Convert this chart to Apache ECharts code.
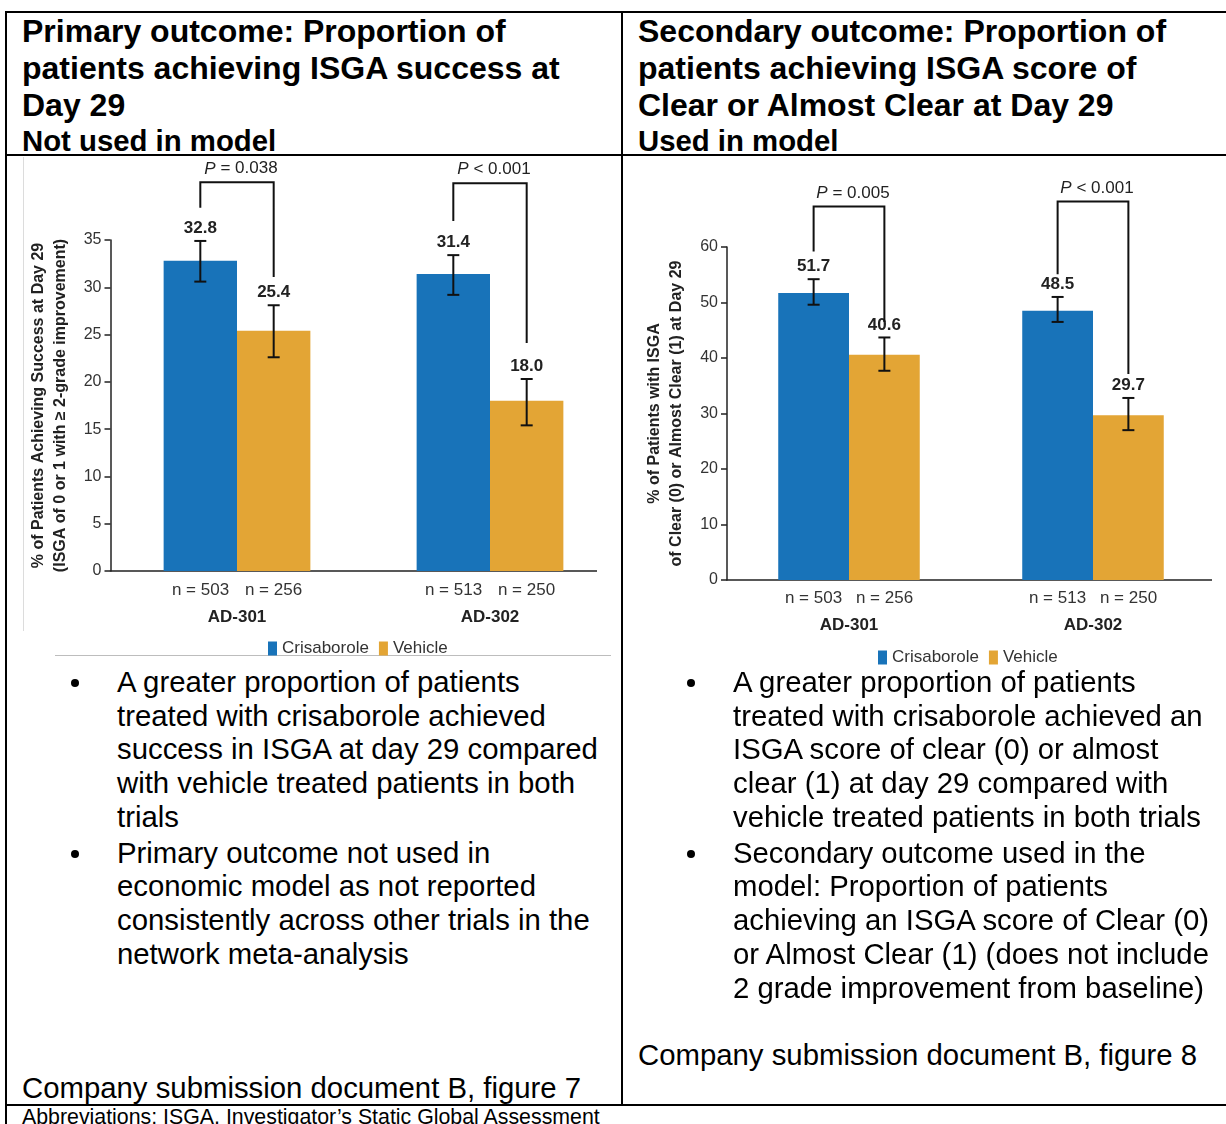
<!DOCTYPE html>
<html>
<head>
<meta charset="utf-8">
<title>ISGA outcomes at Day 29</title>
<script src="https://cdn.jsdelivr.net/npm/echarts@6/dist/echarts.min.js"></script>
<style>
  html, body { margin: 0; padding: 0; background: #fff; }
  body { width: 1226px; height: 1124px; overflow: hidden; position: relative;
         font-family: "Liberation Sans", Arial, sans-serif; color: #000; }
  .rule { position: absolute; background: #000; }
  .head { position: absolute; font-weight: bold; font-size: 32px; line-height: 36.8px; white-space: nowrap; }
  .sub { position: absolute; font-weight: bold; font-size: 29.33px; line-height: 33.73px; white-space: nowrap; }
  .body { position: absolute; font-size: 29.33px; line-height: 33.73px; white-space: nowrap; }
  .bullets p { margin: 0 0 2px 0; position: relative; }
  .bullets p::before { content: ""; position: absolute; left: -46px; top: 14px; width: 8px; height: 8px;
                       border-radius: 50%; background: #000; }
  .chart { position: absolute; }
  .clip { position: absolute; overflow: hidden; }
</style>
</head>
<body>
<!-- table rules -->
<div class="rule" style="left:5px; top:11px; width:1221px; height:2px;"></div>
<div class="rule" style="left:5px; top:11px; width:2px; height:1113px;"></div>
<div class="rule" style="left:621px; top:11px; width:2px; height:1095px;"></div>
<div class="rule" style="left:5px; top:154px; width:1221px; height:2px;"></div>
<div class="rule" style="left:5px; top:1104px; width:1221px; height:2px;"></div>

<!-- headings -->
<div class="head" style="left:22px; top:13px;">Primary outcome: Proportion of<br>patients achieving ISGA success at<br>Day 29</div>
<div class="sub" style="left:22px; top:124px;">Not used in model</div>
<div class="head" style="left:638px; top:13px;">Secondary outcome: Proportion of<br>patients achieving ISGA score of<br>Clear or Almost Clear at Day 29</div>
<div class="sub" style="left:638px; top:124px;">Used in model</div>

<!-- figure frame of the left panel -->
<div style="position:absolute; left:23px; top:157px; width:1px; height:474px; background:#dcdcdc;"></div>
<div style="position:absolute; left:55px; top:655px; width:556px; height:1px; background:#bdbdbd;"></div>

<div class="clip" style="left:24px; top:157px; width:573px; height:500px;">
  <div id="chartSuccess" class="chart" style="left:0; top:0; width:593px; height:500px;"></div>
</div>
<div id="chartClear" class="chart" style="left:630px; top:160px; width:582px; height:510px;"></div>

<!-- bullet text -->
<div class="body bullets" style="left:117px; top:665px;">
  <p>A greater proportion of patients<br>treated with crisaborole achieved<br>success in ISGA at day 29 compared<br>with vehicle treated patients in both<br>trials</p>
  <p>Primary outcome not used in<br>economic model as not reported<br>consistently across other trials in the<br>network meta-analysis</p>
</div>
<div class="body bullets" style="left:733px; top:665px;">
  <p>A greater proportion of patients<br>treated with crisaborole achieved an<br>ISGA score of clear (0) or almost<br>clear (1) at day 29 compared with<br>vehicle treated patients in both trials</p>
  <p>Secondary outcome used in the<br>model: Proportion of patients<br>achieving an ISGA score of Clear (0)<br>or Almost Clear (1) (does not include<br>2 grade improvement from baseline)</p>
</div>

<div class="body" style="left:22px; top:1071px;">Company submission document B, figure 7</div>
<div class="body" style="left:638px; top:1038px;">Company submission document B, figure 8</div>
<div style="position:absolute; left:22px; top:1105px; font-size:21.33px; line-height:24px; white-space:nowrap;">Abbreviations: ISGA, Investigator’s Static Global Assessment</div>

<script>
// Trials and treatment arms
const trials = ['AD-301', 'AD-302'];
const arms = ['Crisaborole', 'Vehicle'];
const nCrisaborole = ['n = 503', 'n = 513'];
const nVehicle = ['n = 256', 'n = 250'];

// Primary outcome: ISGA success at Day 29 (%)
const successCrisaborole = [32.8, 31.4];
const successVehicle = [25.4, 18.0];
const successCrisaboroleCI = [[30.6, 34.9], [29.2, 33.4]];
const successVehicleCI = [[22.6, 28.1], [15.4, 20.3]];
// comparison brackets: [left leg end, top, right leg end]
const successBrackets = [[38.4, 41.1, 31.1], [37.0, 41.0, 24.1]];
const successP = ['= 0.038', '< 0.001'];
const successAxis = [0, 35, 5];
const successAxisName = ['% of Patients Achieving Success at Day 29', '(ISGA of 0 or 1 with \u2265 2-grade improvement)'];

// Secondary outcome: ISGA Clear (0) or Almost Clear (1) at Day 29 (%)
const clearCrisaborole = [51.7, 48.5];
const clearVehicle = [40.6, 29.7];
const clearCrisaboroleCI = [[49.6, 54.2], [46.5, 51.0]];
const clearVehicleCI = [[37.7, 43.7], [27.0, 32.8]];
const clearBrackets = [[59.2, 67.3, 46.5], [55.1, 68.2, 37.1]];
const clearP = ['= 0.005', '< 0.001'];
const clearAxis = [0, 60, 10];
const clearAxisName = ['% of Patients with ISGA', 'of Clear (0) or Almost Clear (1) at Day 29'];

const FONT = '"Liberation Sans", Arial, sans-serif';
const BLUE = '#1873b9';
const ORANGE = '#e3a535';
const INK = '#111';
const GAP = 0.42;               // bar category gap
const HALF = (1 - GAP) / 4;     // offset of each bar centre from the category centre, in category widths

function barCentre(api, cat, side) {
  const catW = api.size([1, 0])[0];
  return api.coord([cat, 0])[0] + side * catW * HALF;
}

function errorSeries(name, ci, values, side) {
  return {
    type: 'custom', name, z: 5, clip: false, silent: true,
    data: ci.map((r, i) => [i, r[0], r[1], values[i]]),
    encode: { x: 0, y: [1, 2] },
    renderItem(params, api) {
      const cat = api.value(0);
      const x = barCentre(api, cat, side);
      const yLo = api.coord([cat, api.value(1)])[1];
      const yHi = api.coord([cat, api.value(2)])[1];
      const st = { stroke: INK, lineWidth: 2 };
      return {
        type: 'group',
        children: [
          { type: 'line', shape: { x1: x, y1: yLo, x2: x, y2: yHi }, style: st },
          { type: 'line', shape: { x1: x - 6, y1: yHi, x2: x + 6, y2: yHi }, style: st },
          { type: 'line', shape: { x1: x - 6, y1: yLo, x2: x + 6, y2: yLo }, style: st },
          { type: 'text', x: x, y: yHi - 4,
            style: { text: api.value(3).toFixed(1), fill: '#222', font: 'bold 17px ' + FONT,
                     align: 'center', verticalAlign: 'bottom' } }
        ]
      };
    }
  };
}

function bracketSeries(brackets, pLabels) {
  return {
    type: 'custom', name: 'comparison', z: 5, clip: false, silent: true,
    data: brackets.map((b, i) => [i, b[0], b[1], b[2]]),
    encode: { x: 0, y: [1, 2, 3] },
    renderItem(params, api) {
      const cat = api.value(0);
      const xl = barCentre(api, cat, -1);
      const xr = barCentre(api, cat, 1);
      const yl = api.coord([cat, api.value(1)])[1];
      const yt = api.coord([cat, api.value(2)])[1];
      const yr = api.coord([cat, api.value(3)])[1];
      return {
        type: 'group',
        children: [
          { type: 'polyline', shape: { points: [[xl, yl], [xl, yt], [xr, yt], [xr, yr]] },
            style: { stroke: INK, lineWidth: 2, fill: null } },
          { type: 'text', x: (xl + xr) / 2 + 4, y: yt - 5,
            style: { text: '{i|P} ' + pLabels[cat], fill: '#222', font: '17px ' + FONT,
                     align: 'center', verticalAlign: 'bottom',
                     rich: { i: { fontStyle: 'italic', fontSize: 17, fontFamily: FONT } } } }
        ]
      };
    }
  };
}

function buildOption(cfg) {
  return {
    animation: false,
    textStyle: { fontFamily: FONT },
    grid: Object.assign({ outerBoundsMode: 'none', containLabel: false }, cfg.grid),
    legend: {
      data: arms, left: cfg.legendLeft, top: cfg.legendTop, icon: 'rect', padding: 0,
      itemWidth: 9, itemHeight: 14, itemGap: 10,
      textStyle: { fontSize: 17, color: '#333', fontFamily: FONT }
    },
    xAxis: {
      type: 'category', data: trials,
      axisLine: { lineStyle: { color: '#222', width: 1.5 } },
      axisTick: { length: 7, lineStyle: { color: '#222', width: 1.5 } },
      axisLabel: {
        margin: cfg.labelMargin, interval: 0,
        formatter: (v, i) => '{n|' + nCrisaborole[i] + '}{n|' + nVehicle[i] + '}\n{t|' + v + '}',
        rich: {
          n: { width: cfg.nWidth, align: 'center', fontSize: 17, color: '#333', lineHeight: 20, fontFamily: FONT },
          t: { fontSize: 17, fontWeight: 'bold', color: '#222', lineHeight: 34, fontFamily: FONT }
        }
      }
    },
    yAxis: {
      type: 'value', min: cfg.axis[0], max: cfg.axis[1], interval: cfg.axis[2],
      name: cfg.axisName.join('\n'), nameLocation: 'middle', nameRotate: 90, nameGap: cfg.nameGap,
      nameTextStyle: { fontSize: 16, fontWeight: 'bold', color: '#222', lineHeight: 22, align: 'center' },
      axisLine: { show: true, lineStyle: { color: '#222', width: 1.5 } },
      axisTick: { show: true, length: 6, lineStyle: { color: '#222', width: 1.5 } },
      axisLabel: { fontSize: 16, color: '#333', margin: 9 },
      splitLine: { show: false }
    },
    series: [
      { type: 'bar', name: arms[0], data: cfg.cris, barGap: '0%', barCategoryGap: (GAP * 100) + '%',
        itemStyle: { color: BLUE }, silent: true },
      { type: 'bar', name: arms[1], data: cfg.veh, barGap: '0%', barCategoryGap: (GAP * 100) + '%',
        itemStyle: { color: ORANGE }, silent: true },
      errorSeries('Crisaborole CI', cfg.crisCI, cfg.cris, -1),
      errorSeries('Vehicle CI', cfg.vehCI, cfg.veh, 1),
      bracketSeries(cfg.brackets, cfg.p)
    ]
  };
}

// the right end of the primary-outcome x axis runs past its frame and is cut off by the wrapper
const successChart = echarts.init(document.getElementById('chartSuccess'), null, { renderer: 'canvas' });
successChart.setOption(buildOption({
  grid: { left: 86.5, top: 83, right: 0.5, bottom: 86 },
  legendLeft: 244, legendTop: 483, labelMargin: 9, nWidth: 73, nameGap: 39,
  axis: successAxis, axisName: successAxisName,
  cris: successCrisaborole, veh: successVehicle,
  crisCI: successCrisaboroleCI, vehCI: successVehicleCI,
  brackets: successBrackets, p: successP
}));

const clearChart = echarts.init(document.getElementById('chartClear'), null, { renderer: 'canvas' });
clearChart.setOption(buildOption({
  grid: { left: 97, top: 87, right: -3, bottom: 90 },
  legendLeft: 248, legendTop: 489, labelMargin: 8, nWidth: 71, nameGap: 39,
  axis: clearAxis, axisName: clearAxisName,
  cris: clearCrisaborole, veh: clearVehicle,
  crisCI: clearCrisaboroleCI, vehCI: clearVehicleCI,
  brackets: clearBrackets, p: clearP
}));
</script>
</body>
</html>
